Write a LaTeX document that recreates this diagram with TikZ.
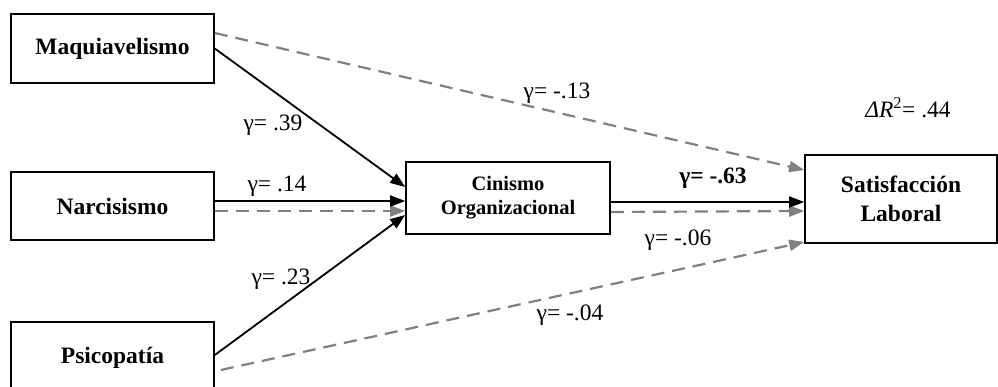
\documentclass[tikz,border=0pt]{standalone}
\usepackage{fontspec}
\setmainfont{Liberation Serif}
\usetikzlibrary{arrows.meta}
\definecolor{dgray}{HTML}{808080}
\begin{document}
\begin{tikzpicture}[x=1pt,y=-1pt,
  boxa/.style={draw=black,line width=1.6pt,inner sep=0pt,align=center,font=\fontsize{23.5}{26}\selectfont\bfseries},
  solidarr/.style={draw=black,line width=1.8pt,-{Triangle[length=15pt,width=11pt]}},
  dasharr/.style={draw=dgray,line width=2.2pt,dash pattern=on 13pt off 8pt,-{Triangle[length=15pt,width=11pt]}},
  lbl/.style={inner sep=0pt,font=\fontsize{23.5}{26}\selectfont}]
\useasboundingbox (0,0) rectangle (998,387);
\fill[white] (0,0) rectangle (998,387);
\node[boxa,minimum width=203pt,minimum height=69pt] (maq) at (112.5,48.5) {Maquiavelismo};
\node[boxa,minimum width=203pt,minimum height=68pt] (narc) at (112.5,206) {Narcisismo};
\node[boxa,minimum width=203pt,minimum height=72pt] (psic) at (112.5,358) {Psicopatía};
\node[boxa,minimum width=204pt,minimum height=72pt,font=\fontsize{20.5}{24}\selectfont\bfseries] (cin) at (508,198) {Cinismo\\Organizacional};
\node[boxa,minimum width=192pt,minimum height=88pt,font=\fontsize{23.5}{29}\selectfont\bfseries] (sat) at (901,199) {Satisfacción\\Laboral};
% dashed direct paths
\draw[dasharr] ([yshift=15.5pt]maq.east) -- ([yshift=29pt]sat.west);
\draw[dasharr] ([yshift=-5pt]narc.east) -- ([yshift=-13pt]cin.west);
\draw[dasharr] ([yshift=-14pt]cin.east) -- ([yshift=-12pt]sat.west);
\draw[dasharr] ([xshift=6pt,yshift=-12pt]psic.east) -- ([yshift=-43pt]sat.west);
% solid paths
\draw[solidarr] ([yshift=3pt]psic.east) -- ([yshift=-17pt]cin.west);
\draw[solidarr] (maq.east) -- ([yshift=11pt]cin.west);
\draw[solidarr] ([yshift=5pt]narc.east) -- ([yshift=-3pt]cin.west);
\draw[solidarr] ([yshift=-4pt]cin.east) -- ([yshift=-3pt]sat.west);
% labels
\node[lbl] (l1) at (273,125) {γ= .39};
\node[lbl] (l2) at (277,186) {γ= .14};
\node[lbl] (l3) at (281,279) {γ= .23};
\node[lbl] (l4) at (557,93) {γ= -.13};
\node[lbl,font=\fontsize{23.5}{26}\selectfont\bfseries] (l5) at (713,178) {γ= -.63};
\node[lbl] (l6) at (678,240) {γ= -.06};
\node[lbl] (l7) at (570,315) {γ= -.04};
\node[lbl] (l8) at (908,108) {{\itshape ΔR}\textsuperscript{2}= .44};
\end{tikzpicture}
\end{document}
